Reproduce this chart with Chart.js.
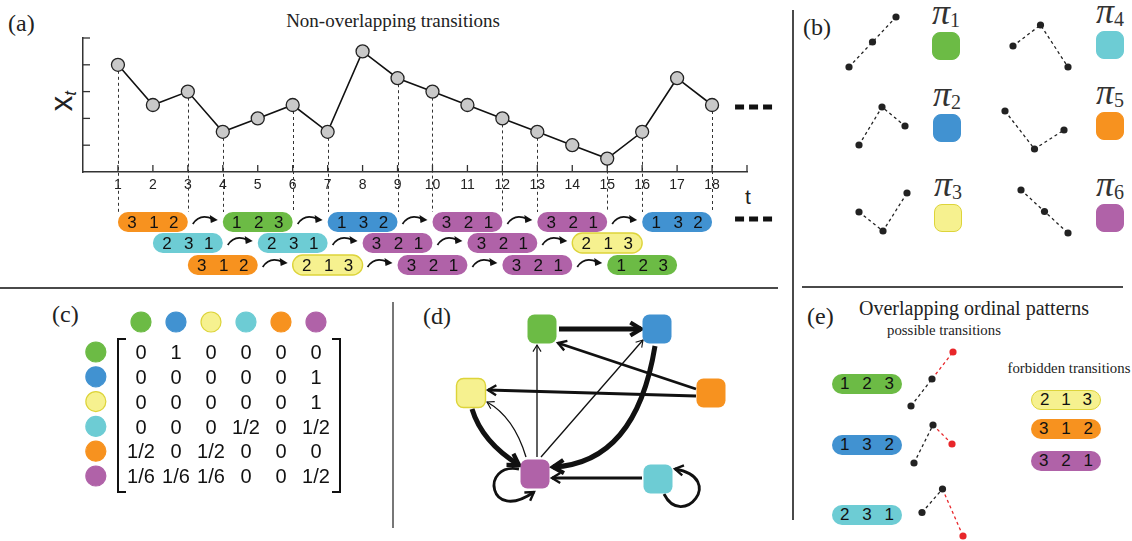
<!DOCTYPE html>
<html><head><meta charset="utf-8">
<script src="https://cdn.jsdelivr.net/npm/chart.js@4.4.1/dist/chart.umd.min.js"></script>
<style>
html,body{margin:0;padding:0;background:#fff;}
#root{position:relative;width:1132px;height:541px;overflow:hidden;background:#fff;font-family:"Liberation Sans",Arial,sans-serif;}
#root canvas{position:absolute;}
.txt{position:absolute;white-space:nowrap;color:#222;}
.serif{font-family:"Liberation Serif","Times New Roman",serif;}
.pill{position:absolute;width:70px;height:20px;border-radius:10px;box-sizing:border-box;font-family:"Liberation Sans",Arial,sans-serif;font-size:17px;color:#111;line-height:20px;display:flex;justify-content:space-between;padding:0 8px;}
.sq{position:absolute;width:28px;height:28px;border-radius:8px;box-sizing:border-box;}
.pi{position:absolute;font-family:"Liberation Serif","DejaVu Serif",serif;font-style:italic;font-size:36px;color:#333;line-height:1;white-space:nowrap;}
.pi sub{font-size:20px;vertical-align:-3px;font-style:normal;font-family:"Liberation Serif",serif;}
.rule{position:absolute;background:#4a4a4a;}
</style></head>
<body>
<div id="root"></div>
<script>
// ================= DATA =================
const timeSteps    = [1,2,3,4,5,6,7,8,9,10,11,12,13,14,15,16,17,18];
const seriesValues = [4,2.5,3,1.5,2,2.5,1.5,4.5,3.5,3,2.5,2,1.5,1,0.5,1.5,3.5,2.5];
const xTickLabels  = ['1','2','3','4','5','6','7','8','9','10','11','12','13','14','15','16','17','18'];
const yTickValues  = [1,2,3,4,5];
const dropTimes    = [1,3,4,6,7,9,10,12,13,15,16,18];

const row1Starts   = [1,4,7,10,13,16];
const row1Patterns = ['312','123','132','321','321','132'];
const row2Starts   = [2,5,8,11,14];
const row2Patterns = ['231','231','321','321','213'];
const row3Starts   = [3,6,9,12,15];
const row3Patterns = ['312','213','321','321','123'];

const patternOrder  = ['123','132','213','231','312','321'];        // pi1..pi6
const patternColors = ['#6cbb45','#4192d1','#f6f18f','#6dccd4','#f7921f','#b062a8'];
const patternRanks  = [[1,2,3],[1,3,2],[2,1,3],[2,3,1],[3,1,2],[3,2,1]];

const transitionText = [
  ['0','1','0','0','0','0'],
  ['0','0','0','0','0','1'],
  ['0','0','0','0','0','1'],
  ['0','0','0','1/2','0','1/2'],
  ['1/2','0','1/2','0','0','0'],
  ['1/6','1/6','1/6','0','0','1/2']
];
const possibleTransitions  = ['123','132','231'];
const forbiddenTransitions = ['213','312','321'];

// ================= LAYOUT / STYLE =================
const SANS = '"Liberation Sans", Arial, sans-serif';
const YELLOW_EDGE = '#ddd43a';
const colorOf = p => patternColors[patternOrder.indexOf(p)];
const rankOf  = p => patternRanks[patternOrder.indexOf(p)];
const parseFrac = s => { const q = s.split('/'); return q.length===2 ? (+q[0])/(+q[1]) : +s; };

const root = document.getElementById('root');
function addCanvas(left, top, w, h){
  const c = document.createElement('canvas');
  c.width = w; c.height = h; c.style.left = left+'px'; c.style.top = top+'px';
  c.style.width = w+'px'; c.style.height = h+'px';
  root.appendChild(c); return c;
}
function addHTML(html){ root.insertAdjacentHTML('beforeend', html); }
const baseOpts = {responsive:false, animation:false, events:[], devicePixelRatio:1,
  plugins:{legend:{display:false}, tooltip:{enabled:false}}};

// ---------- rules / labels ----------
addHTML('<div class="rule" style="left:0;top:287px;width:778px;height:2px"></div>');
addHTML('<div class="rule" style="left:792px;top:10px;width:2px;height:510px"></div>');
addHTML('<div class="rule" style="left:802px;top:286px;width:321px;height:1.5px"></div>');
addHTML('<div class="rule" style="left:392px;top:302px;width:1.5px;height:226px;background:#777"></div>');

addHTML('<div class="txt serif" style="left:8px;top:11px;font-size:24px;line-height:24px">(a)</div>');
addHTML('<div class="txt serif" style="left:243px;width:300px;text-align:center;top:11px;font-size:19px;line-height:19px">Non-overlapping transitions</div>');
addHTML('<div class="txt serif" style="left:803px;top:15px;font-size:24px;line-height:24px">(b)</div>');
addHTML('<div class="txt serif" style="left:52px;top:302px;font-size:24px;line-height:24px">(c)</div>');
addHTML('<div class="txt serif" style="left:423px;top:304px;font-size:24px;line-height:24px">(d)</div>');
addHTML('<div class="txt serif" style="left:807px;top:304px;font-size:24px;line-height:24px">(e)</div>');
addHTML('<div class="txt serif" style="left:824px;width:300px;text-align:center;top:298px;font-size:20px;line-height:20px">Overlapping ordinal patterns</div>');
addHTML('<div class="txt serif" style="left:844px;width:200px;text-align:center;top:323px;font-size:14.8px;line-height:15px">possible transitions</div>');
addHTML('<div class="txt serif" style="left:969px;width:200px;text-align:center;top:361px;font-size:14.8px;line-height:15px">forbidden transitions</div>');
addHTML('<div class="txt" style="left:738px;width:20px;text-align:center;top:186px;font-size:21px;line-height:22px">t</div>');
addHTML('<div class="txt" style="left:40px;top:88px;width:44px;height:26px;transform:rotate(-90deg);transform-origin:center;font-size:31px;line-height:26px;text-align:center">x<sub style="font-style:italic;font-size:17px;vertical-align:-4px">t</sub></div>');

// ---------- panel (a) ----------
const ROW_Y = [222, 243, 265];
const rows = [[row1Starts,row1Patterns],[row2Starts,row2Patterns],[row3Starts,row3Patterns]];

function pill(ctx, x0, x1, cy, p){
  ctx.save();
  ctx.beginPath(); ctx.roundRect(x0, cy-10, x1-x0, 20, 10);
  ctx.fillStyle = colorOf(p); ctx.fill();
  if (p==='213'){ ctx.strokeStyle = YELLOW_EDGE; ctx.lineWidth = 1.4; ctx.stroke(); }
  ctx.fillStyle = '#111'; ctx.font = '17px '+SANS; ctx.textAlign='center'; ctx.textBaseline='alphabetic';
  const xs = [x0+14, (x0+x1)/2+1, x1-14];
  for (let i=0;i<3;i++) ctx.fillText(p[i], xs[i], cy+6.2);
  ctx.restore();
}
function smallArrow(ctx, x0, x1, cy){
  ctx.save(); ctx.strokeStyle='#111'; ctx.fillStyle='#111'; ctx.lineWidth=1.8;
  ctx.beginPath(); ctx.moveTo(x0, cy+2); ctx.quadraticCurveTo(x0+7, cy-9, x1-5, cy-3); ctx.stroke();
  ctx.beginPath(); ctx.moveTo(x1, cy-2); ctx.lineTo(x1-8, cy-7); ctx.lineTo(x1-7, cy+1); ctx.closePath(); ctx.fill();
  ctx.restore();
}
function dashes(ctx, x, cy){
  ctx.save(); ctx.fillStyle='#111';
  for (let i=0;i<3;i++) ctx.fillRect(x+i*14, cy-2.5, 9, 5);
  ctx.restore();
}

const panelAPlugin = {
  id:'panelA',
  beforeDatasetsDraw(chart){
    const {ctx, scales:{x,y}} = chart;
    ctx.save();
    ctx.strokeStyle='#333'; ctx.lineWidth=1; ctx.setLineDash([3,3]);
    dropTimes.forEach(t=>{
      const v = seriesValues[timeSteps.indexOf(t)];
      const px = Math.round(x.getPixelForValue(t))+0.5;
      ctx.beginPath(); ctx.moveTo(px, y.getPixelForValue(v)+6); ctx.lineTo(px, ROW_Y[0]-10); ctx.stroke();
    });
    ctx.setLineDash([]); ctx.lineWidth=1.3; ctx.strokeStyle='#333';
    yTickValues.forEach(v=>{ const py=y.getPixelForValue(v);
      ctx.beginPath(); ctx.moveTo(x.left, py); ctx.lineTo(x.left+7, py); ctx.stroke(); });
    x.ticks.forEach(tk=>{ if (tk.value<=0) return; const px=x.getPixelForValue(tk.value);
      ctx.beginPath(); ctx.moveTo(px, y.bottom); ctx.lineTo(px, y.bottom-7); ctx.stroke(); });
    ctx.restore();
  },
  afterDraw(chart){
    const {ctx, scales:{x,y}} = chart;
    rows.forEach(([starts, pats], r)=>{
      starts.forEach((s,i)=>{
        const x0 = x.getPixelForValue(s), x1 = x.getPixelForValue(s+2);
        pill(ctx, x0, x1, ROW_Y[r], pats[i]);
        if (i>0){
          const prevEnd = x.getPixelForValue(starts[i-1]+2);
          smallArrow(ctx, prevEnd+5, x0-5, ROW_Y[r]);
        }
      });
    });
    const lastX = x.getPixelForValue(timeSteps[timeSteps.length-1]);
    dashes(ctx, lastX+23, y.getPixelForValue(seriesValues[seriesValues.length-1])+2);
    dashes(ctx, lastX+23, ROW_Y[0]-3);
  }
};

new Chart(addCanvas(0,0,790,288), {
  type:'line',
  data:{datasets:[{
    data: timeSteps.map((t,i)=>({x:t, y:seriesValues[i]})),
    borderColor:'#111', borderWidth:1.6, tension:0, clip:false,
    pointRadius:6.5, pointBackgroundColor:'#c9c9c9', pointBorderColor:'#222', pointBorderWidth:1.3
  }]},
  options:{...baseOpts,
    layout:{padding:{left:0,right:43,top:38,bottom:0}},
    scales:{
      x:{type:'linear', min:0, max:19, afterFit(s){ s.height=116; },
         grid:{drawOnChartArea:false, drawTicks:false}, border:{color:'#333', width:1.5},
         ticks:{stepSize:1, autoSkip:false, maxRotation:0, padding:5, color:'#222', font:{family:SANS, size:14},
                callback:(v)=> (v>=1 && v<=xTickLabels.length) ? xTickLabels[v-1] : ''}},
      y:{type:'linear', min:0, max:5, afterFit(s){ s.width=83; },
         grid:{drawOnChartArea:false, drawTicks:false}, border:{color:'#333', width:1.5},
         ticks:{display:false, stepSize:1}}
    }
  },
  plugins:[panelAPlugin]
});

// ---------- mini ordinal-pattern plots ----------
function miniPlot(box, ranks, lastRed){
  const [x0,y0,x1,y1] = box, pad = 6;
  const c = addCanvas(x0-pad, y0-pad, x1-x0+2*pad, y1-y0+2*pad);
  const red = '#e8262a', blk = '#222';
  new Chart(c, {
    type:'scatter',
    data:{datasets:[{
      data: ranks.map((r,i)=>({x:i+1, y:r})), showLine:true, clip:false,
      borderColor:blk, borderWidth:1.3, borderDash:[3,3],
      segment:{borderColor: s => (lastRed && s.p1DataIndex===2) ? red : blk},
      pointRadius:3.6, pointBorderWidth:0,
      pointBackgroundColor: ranks.map((r,i)=> (lastRed && i===2) ? red : blk)
    }]},
    options:{...baseOpts, layout:{padding:pad},
      scales:{x:{display:false,min:1,max:3}, y:{display:false,min:1,max:3}}}
  });
}
// panel (b)
const bPlotBoxes = [[849,17,896,67],[859,107,905,145],[859,193,907,231],[1013,25,1068,67],[1005,111,1064,149],[1021,190,1068,233]];
const bSquares   = [[932,32],[933,114],[934,204],[1096,31],[1096,112],[1096,204]];
patternOrder.forEach((p,i)=>{
  miniPlot(bPlotBoxes[i], patternRanks[i], false);
  const [sx,sy] = bSquares[i];
  const border = p==='213' ? YELLOW_EDGE : colorOf(p);
  addHTML(`<div class="sq" style="left:${sx}px;top:${sy}px;background:${colorOf(p)};border:1.5px solid ${border}"></div>`);
  addHTML(`<div class="pi" style="left:${sx}px;top:${sy-38}px">π<sub>${i+1}</sub></div>`);
});

// panel (e)
const ePlotBoxes = [[911,352,953,406],[914,425,952,463],[922,489,963,536]];
const ePillPos   = [[832,374],[832,435],[832,505]];
possibleTransitions.forEach((p,i)=>{
  miniPlot(ePlotBoxes[i], rankOf(p), true);
  const [px,py] = ePillPos[i];
  addHTML(`<div class="pill" style="left:${px}px;top:${py}px;background:${colorOf(p)}"><span>${p[0]}</span><span>${p[1]}</span><span>${p[2]}</span></div>`);
});
const fPillPos = [[1031,390],[1031,419],[1031,451]];
forbiddenTransitions.forEach((p,i)=>{
  const [px,py] = fPillPos[i];
  const bd = p==='213' ? `border:1.5px solid ${YELLOW_EDGE};line-height:17px;` : '';
  addHTML(`<div class="pill" style="left:${px}px;top:${py}px;background:${colorOf(p)};${bd}"><span>${p[0]}</span><span>${p[1]}</span><span>${p[2]}</span></div>`);
});

// ---------- panel (c) transition matrix ----------
const HEADER_ROW = -1.21, LABEL_COL = -1.29;
const matrixPlugin = {
  id:'matrix',
  afterDraw(chart){
    const {ctx, scales:{x,y}} = chart;
    ctx.save();
    ctx.fillStyle='#111'; ctx.font='20px '+SANS; ctx.textAlign='center'; ctx.textBaseline='alphabetic';
    transitionText.forEach((row,r)=> row.forEach((s,c)=>{
      ctx.fillText(s, x.getPixelForValue(c), y.getPixelForValue(r)+7.2);
    }));
    ctx.strokeStyle='#111'; ctx.lineWidth=2;
    const L=x.getPixelForValue(0)-23, R=x.getPixelForValue(5)+24, T=y.getPixelForValue(0)-13, B=y.getPixelForValue(5)+16;
    ctx.beginPath(); ctx.moveTo(L+8,T); ctx.lineTo(L,T); ctx.lineTo(L,B); ctx.lineTo(L+8,B); ctx.stroke();
    ctx.beginPath(); ctx.moveTo(R-8,T); ctx.lineTo(R,T); ctx.lineTo(R,B); ctx.lineTo(R-8,B); ctx.stroke();
    ctx.restore();
  }
};
const borderCols = patternOrder.map(p => p==='213' ? YELLOW_EDGE : colorOf(p));
// x: value v -> 81 + 35 v (canvas px); y: value v -> 52 + 24.8 v
new Chart(addCanvas(60,300,300,200), {
  type:'scatter',
  data:{datasets:[
    {data: patternOrder.map((p,i)=>({x:i, y:HEADER_ROW})), clip:false, pointRadius:10, pointBorderWidth:1.2,
     pointBackgroundColor: patternColors, pointBorderColor: borderCols},
    {data: patternOrder.map((p,i)=>({x:LABEL_COL, y:i})), clip:false, pointRadius:10, pointBorderWidth:1.2,
     pointBackgroundColor: patternColors, pointBorderColor: borderCols}
  ]},
  options:{...baseOpts, layout:{padding:{left:25,right:33.5,top:12.32,bottom:16.56}},
    scales:{x:{display:false,type:'linear',min:-1.6,max:5.3}, y:{display:false,type:'linear',min:-1.6,max:5.3,reverse:true}}},
  plugins:[matrixPlugin]
});

// ---------- panel (d) transition network ----------
const graphNodeLayout = {'123':[542,329],'132':[657,329],'213':[471,393],'231':[658,479],'312':[711,393],'321':[535,474]};
const graphEdgeRoutes = {
  '123>132':[[559,329],[641,329]],
  '132>321':[[655,346],[636,463],[553,467]],
  '213>321':[[472,409],[482,442],[519,465]],
  '231>231':[[664,494],[682,530],[727,478],[675,469]],
  '231>321':[[642,478],[552,478]],
  '312>123':[[696,389],[558,343]],
  '312>213':[[696,396],[488,390]],
  '321>123':[[537,457],[537,345]],
  '321>132':[[541,457],[643,340]],
  '321>213':[[526,457],[514,417],[487,402]],
  '321>321':[[519,469],[480,462],[488,524],[534,492]]
};
const graphPlugin = {
  id:'graph',
  afterDraw(chart){
    const {ctx, scales:{x,y}} = chart;
    const P = pt => [x.getPixelForValue(pt[0]), y.getPixelForValue(pt[1])];
    ctx.save(); ctx.strokeStyle='#111'; ctx.lineCap='butt'; ctx.lineJoin='miter';
    transitionText.forEach((row,i)=> row.forEach((s,j)=>{
      const w = parseFrac(s); if (!w) return;
      const route = graphEdgeRoutes[patternOrder[i]+'>'+patternOrder[j]];
      if (!route) return;
      const pts = route.map(P);
      const lw = 0.6 + 4.4*w;
      ctx.lineWidth = lw;
      ctx.beginPath(); ctx.moveTo(...pts[0]);
      if (pts.length===2) ctx.lineTo(...pts[1]);
      else if (pts.length===3) ctx.quadraticCurveTo(...pts[1], ...pts[2]);
      else ctx.bezierCurveTo(...pts[1], ...pts[2], ...pts[3]);
      ctx.stroke();
      const tip = pts[pts.length-1], from = pts[pts.length-2];
      const a = Math.atan2(tip[1]-from[1], tip[0]-from[0]);
      const Lh = 6 + 1.3*lw;
      ctx.lineWidth = Math.max(1.1, lw*0.85);
      ctx.beginPath();
      ctx.moveTo(tip[0]-Lh*Math.cos(a-0.55), tip[1]-Lh*Math.sin(a-0.55));
      ctx.lineTo(tip[0], tip[1]);
      ctx.lineTo(tip[0]-Lh*Math.cos(a+0.55), tip[1]-Lh*Math.sin(a+0.55));
      ctx.stroke();
    }));
    patternOrder.forEach((p,i)=>{
      const [cx,cy] = P(graphNodeLayout[p]);
      ctx.beginPath(); ctx.roundRect(cx-14.5, cy-14.5, 29, 29, 7);
      ctx.fillStyle = colorOf(p); ctx.fill();
      if (p==='213'){ ctx.strokeStyle=YELLOW_EDGE; ctx.lineWidth=1.4; ctx.stroke(); }
    });
    ctx.restore();
  }
};
new Chart(addCanvas(395,295,395,240), {
  type:'scatter', data:{datasets:[]},
  options:{...baseOpts, layout:{padding:0},
    scales:{x:{display:false,type:'linear',min:395,max:790}, y:{display:false,type:'linear',min:295,max:535,reverse:true}}},
  plugins:[graphPlugin]
});
</script>
</body></html>
